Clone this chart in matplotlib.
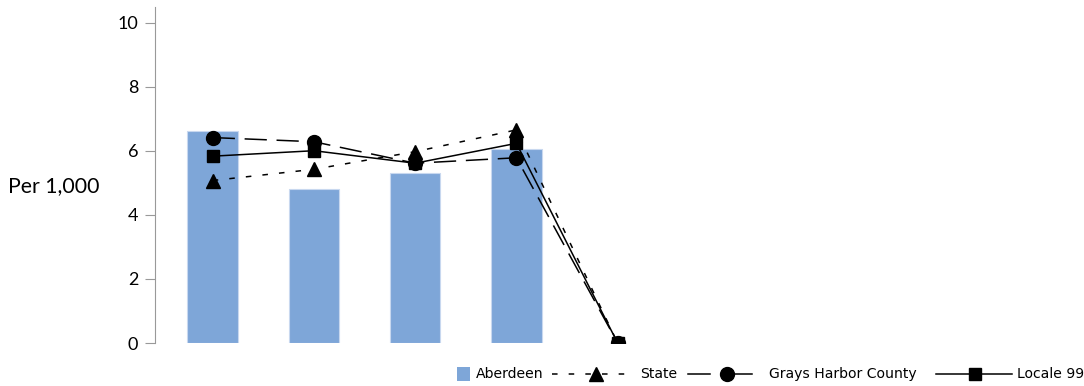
import matplotlib
matplotlib.use("Agg")
import matplotlib.pyplot as plt
from matplotlib.lines import Line2D
from matplotlib.patches import Rectangle

plt.rcParams['lines.scale_dashes'] = False

categories = ["1", "2", "3", "4", "5"]
aberdeen = [6.62, 4.80, 5.30, 6.05, None]
state = [5.07, 5.42, 5.97, 6.65, 0.0]
grays_harbor = [6.41, 6.28, 5.61, 5.78, 0.0]
locale99 = [5.83, 6.00, 5.61, 6.23, 0.0]
yticks = [0, 2, 4, 6, 8, 10]

W, H = 1084, 386
BAR_COLOR = "#7EA6D8"
STATE_DASH = (4, 8)
GHC_DASH = (16, 7)

fig = plt.figure(figsize=(W/100, H/100), dpi=100)
ax = fig.add_axes([155/W, 1-343/H, 1-155/W-0.01, (343-6.5)/H])

x = list(range(len(categories)))
bx = [i for i, v in enumerate(aberdeen) if v is not None]
bv = [v for v in aberdeen if v is not None]
ax.bar(bx, bv, width=0.5, color=BAR_COLOR, edgecolor="#C8D8EF", linewidth=0.8, zorder=1)

ax.plot(x, state, color="black", lw=1.1, dashes=STATE_DASH, marker="^", markersize=10, zorder=3)
ax.plot(x, grays_harbor, color="black", lw=1.1, dashes=GHC_DASH, marker="o", markersize=10, zorder=3)
ax.plot(x, locale99, color="black", lw=1.1, marker="s", markersize=9, zorder=3)

ax.set_ylim(0, 10.5)
ax.set_xlim(-0.57, 8.5)
ax.set_yticks(yticks)
ax.set_yticklabels([str(t) for t in yticks], fontsize=13, family="Lato")
ax.set_xticks([])
for s in ["top", "right", "bottom"]:
    ax.spines[s].set_visible(False)
ax.spines["left"].set_color("#999999")
ax.tick_params(axis="y", colors="#999999", length=7, labelcolor="black", pad=5)

fig.text(8/W, 1-186/H, "Per 1,000", fontsize=15.3, family="Lato", va="center", ha="left")

# legend (drawn in figure pixel coordinates)
ly = 1 - 374/H
def fx(px):
    return px / W

fig.add_artist(Rectangle((fx(456.5), 1-381/H), 13.5/W, 14/H, transform=fig.transFigure,
                         facecolor=BAR_COLOR, edgecolor="none"))
fig.add_artist(Line2D([fx(552), fx(632)], [ly, ly], transform=fig.transFigure, color="black",
                      lw=1.1, dashes=STATE_DASH))
fig.add_artist(Line2D([fx(596)], [ly], transform=fig.transFigure, color="black",
                      marker="^", markersize=10, lw=0))
fig.add_artist(Line2D([fx(688), fx(710)], [ly, ly], transform=fig.transFigure, color="black",
                      lw=1.1))
fig.add_artist(Line2D([fx(733), fx(752)], [ly, ly], transform=fig.transFigure, color="black",
                      lw=1.1))
fig.add_artist(Line2D([fx(727)], [ly], transform=fig.transFigure, color="black",
                      marker="o", markersize=10, lw=0))
fig.add_artist(Line2D([fx(936), fx(1012)], [ly, ly], transform=fig.transFigure, color="black",
                      lw=1.1, marker=None))
fig.add_artist(Line2D([fx(975)], [ly], transform=fig.transFigure, color="black",
                      marker="s", markersize=9, lw=0))

labels = ["Aberdeen", "State", "Grays Harbor County", "Locale 99"]
label_x = [476, 640, 769, 1017]
for lab, px in zip(labels, label_x):
    fig.text(fx(px), ly, lab, fontsize=10.1, family="DejaVu Sans", va="center", ha="left")

fig.savefig("out.png", dpi=100)
